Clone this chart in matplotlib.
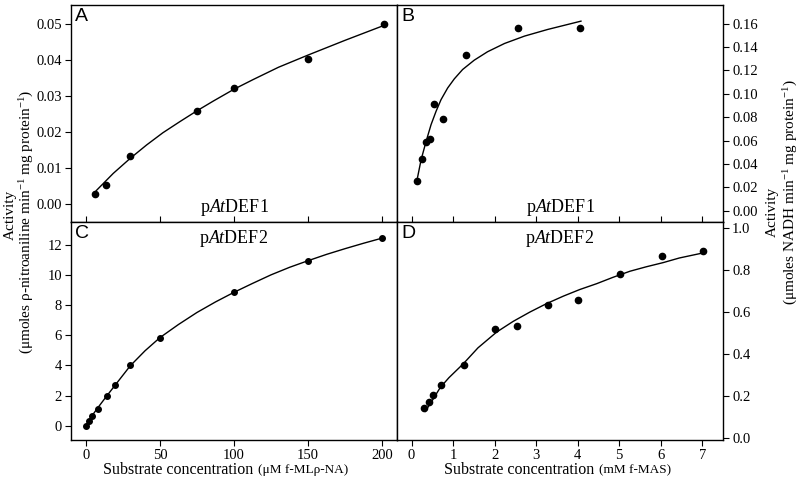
import matplotlib
matplotlib.use("Agg")
import matplotlib.pyplot as plt

plt.rcParams['font.family'] = ['Liberation Serif', 'DejaVu Serif']
plt.rcParams['mathtext.fontset'] = 'custom'
plt.rcParams['mathtext.rm'] = 'Liberation Serif'
plt.rcParams['mathtext.it'] = 'Liberation Serif:italic'

# panel A: pAtDEF1, f-MLp-NA
a_x = [6.3, 13.3, 29.7, 75, 100, 150, 201]
a_y = [0.0029, 0.0052, 0.0134, 0.0258, 0.0321, 0.0404, 0.0500]
a_fit_x = [7, 18.5, 30, 41, 52, 63.5, 75, 86, 100, 113, 130, 150, 175, 201]
a_fit_y = [0.0037, 0.0085, 0.0127, 0.0164, 0.0198, 0.0229, 0.0259, 0.0286,
           0.0319, 0.0346, 0.0380, 0.0414, 0.0455, 0.0496]

# panel B: pAtDEF1, f-MAS
b_x = [0.14, 0.24, 0.35, 0.45, 0.55, 0.75, 1.31, 2.57, 4.06]
b_y = [0.0255, 0.0438, 0.0590, 0.0612, 0.0910, 0.0785, 0.1328, 0.1560, 0.1560]
b_fit_x = [0.136, 0.23, 0.35, 0.47, 0.59, 0.71, 0.87, 1.03, 1.23, 1.51, 1.83,
           2.24, 2.72, 3.28, 4.08]
b_fit_y = [0.0269, 0.0435, 0.0592, 0.0736, 0.0850, 0.0950, 0.1050, 0.1128, 0.1208,
           0.1288, 0.1360, 0.1431, 0.1494, 0.1551, 0.1622]

# panel C: pAtDEF2, f-MLp-NA
c_x = [0, 2, 4, 8, 14, 20, 30, 50, 100, 150, 200]
c_y = [0, 0.33, 0.62, 1.13, 1.95, 2.72, 4.01, 5.85, 8.86, 10.96, 12.46]
c_fit_x = [0, 4, 8, 14, 20, 30, 40, 50, 62.5, 75, 87.5, 100, 112.5, 125, 137.5,
           150, 162.5, 175, 187.5, 200]
c_fit_y = [0, 0.64, 1.18, 1.96, 2.72, 3.98, 4.98, 5.85, 6.72, 7.52, 8.22, 8.86,
           9.45, 10.02, 10.52, 10.96, 11.38, 11.76, 12.12, 12.46]

# panel D: pAtDEF2, f-MAS
d_x = [0.3, 0.41, 0.51, 0.7, 1.26, 2.02, 2.53, 3.28, 4.02, 5.03, 6.04, 7.01]
d_y = [0.145, 0.174, 0.206, 0.252, 0.35, 0.519, 0.535, 0.633, 0.659, 0.782, 0.868, 0.891]
d_fit_x = [0.33, 0.5, 0.69, 0.9, 1.25, 1.6, 2.05, 2.45, 2.85, 3.25, 3.66, 4.05,
           4.46, 4.85, 5.26, 5.65, 6.06, 6.45, 7.02]
d_fit_y = [0.128, 0.180, 0.241, 0.288, 0.355, 0.430, 0.505, 0.556, 0.600, 0.640,
           0.676, 0.707, 0.735, 0.765, 0.794, 0.815, 0.835, 0.857, 0.881]

fig = plt.figure(figsize=(8, 4.83), dpi=100)
axA = fig.add_axes([0.08875, 0.5404, 0.4075, 0.4492])
axB = fig.add_axes([0.49625, 0.5404, 0.4075, 0.4492])
axC = fig.add_axes([0.08875, 0.089, 0.4075, 0.4514])
axD = fig.add_axes([0.49625, 0.089, 0.4075, 0.4514])

panels = [
    (axA, a_x, a_y, a_fit_x, a_fit_y, 'A', 'p$\\mathit{At}$DEF1', 0.065, 4.5),
    (axB, b_x, b_y, b_fit_x, b_fit_y, 'B', 'p$\\mathit{At}$DEF1', 0.065, 4.5),
    (axC, c_x, c_y, c_fit_x, c_fit_y, 'C', 'p$\\mathit{At}$DEF2', 0.922, 4.0),
    (axD, d_x, d_y, d_fit_x, d_fit_y, 'D', 'p$\\mathit{At}$DEF2', 0.922, 4.5),
]
for ax, x, y, fx, fy, letter, name, ny, ms in panels:
    ax.plot(fx, fy, color='black', lw=1.0)
    ax.plot(x, y, 'o', color='black', ms=ms)
    ax.text(0.012, 0.985, letter, transform=ax.transAxes, ha='left', va='top',
            fontsize=14, family='Liberation Sans')
    ax.text(0.5, ny, name, transform=ax.transAxes, ha='center', va='center', fontsize=13)
    for s in ax.spines.values():
        s.set_linewidth(1.0)
    ax.tick_params(labelsize=10.5, length=4, width=0.8, pad=2.5, colors='black')

# left column
axA.set_xlim(-10, 210)
axC.set_xlim(-10, 210)
axA.set_ylim(-0.005, 0.0553)
axC.set_ylim(-0.95, 13.53)
axA.set_xticks([0, 50, 100, 150, 200])
axA.tick_params(axis='x', direction='in', labelbottom=False)
axC.set_xticks([0, 50, 100, 150, 200])
axA.set_yticks([0.00, 0.01, 0.02, 0.03, 0.04, 0.05])
axA.set_yticklabels(['0.00', '0.01', '0.02', '0.03', '0.04', '0.05'])
axC.set_yticks([0, 2, 4, 6, 8, 10, 12])

# right column
for ax in (axB, axD):
    ax.set_xlim(-0.35, 7.5)
    ax.set_xticks(range(8))
    ax.yaxis.tick_right()
axB.tick_params(axis='x', direction='in', labelbottom=False)
axB.set_ylim(-0.0097, 0.176)
axD.set_ylim(-0.008, 1.028)
b_ticks = [0.00, 0.02, 0.04, 0.06, 0.08, 0.10, 0.12, 0.14, 0.16]
axB.set_yticks(b_ticks)
axB.set_yticklabels(['%.2f' % t for t in b_ticks])
d_ticks = [0.0, 0.2, 0.4, 0.6, 0.8, 1.0]
axD.set_yticks(d_ticks)
axD.set_yticklabels(['%.1f' % t for t in d_ticks])

# x labels with smaller parenthetical part
fig.text(257 / 800, 1 - 470 / 483, 'Substrate concentration ', ha='right', va='center', fontsize=11.5)
fig.text(258 / 800, 1 - 470 / 483, '(\u03bcM f-ML\u03c1-NA)', ha='left', va='center', fontsize=9.5)
fig.text(598 / 800, 1 - 470 / 483, 'Substrate concentration ', ha='right', va='center', fontsize=11.5)
fig.text(599 / 800, 1 - 470 / 483, '(mM f-MAS)', ha='left', va='center', fontsize=9.5)

# y labels
fig.text(10 / 800, 1 - 215 / 483, 'Activity', rotation=90, ha='center', va='center', fontsize=11)
fig.text(27 / 800, 1 - 222 / 483, '(\u03bcmoles \u03c1-nitroaniline min$^{-1}$ mg protein$^{-1}$)',
         rotation=90, ha='center', va='center', fontsize=11)
fig.text(772 / 800, 1 - 212 / 483, 'Activity', rotation=90, ha='center', va='center', fontsize=11)
fig.text(791 / 800, 1 - 192 / 483, '(\u03bcmoles NADH min$^{-1}$ mg protein$^{-1}$)',
         rotation=90, ha='center', va='center', fontsize=11)

fig.savefig('out.png', dpi=100)
